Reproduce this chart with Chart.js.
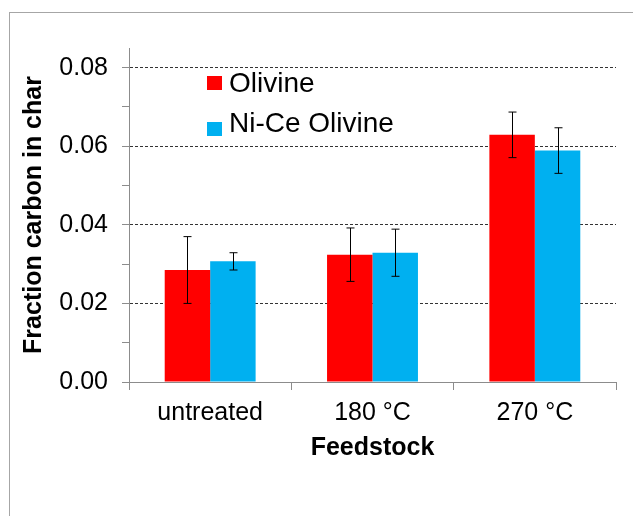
<!DOCTYPE html>
<html>
<head>
<meta charset="utf-8">
<script src="https://cdn.jsdelivr.net/npm/chart.js@4"></script>
<style>
  html, body { margin: 0; padding: 0; background: #fff; }
  #wrap { position: relative; width: 633px; height: 516px; overflow: hidden; }
  #frame { position: absolute; left: 9px; top: 12px; width: 640px; height: 520px;
           border-top: 1px solid #a6a6a6; border-left: 1px solid #a6a6a6; }
  #grafico { position: absolute; left: 0; top: 0; }
  .leyenda { position: absolute; font-family: "Liberation Sans", Arial, sans-serif;
             font-size: 28px; line-height: 28px; color: #000; white-space: nowrap; }
  .cuadro { position: absolute; width: 15px; height: 14px; }
</style>
</head>
<body>
<div id="wrap">
  <div id="frame"></div>
  <canvas id="grafico" width="633" height="516"></canvas>
  <div id="leyenda"></div>
</div>
<script>
// datos
var etiquetas = ["untreated", "180 \u00b0C", "270 \u00b0C"];
var series = ["Olivine", "Ni-Ce Olivine"];
var colores = ["#ff0000", "#00b0f0"];
var olivina = [0.0285, 0.0324, 0.0629];
var olivinaErr = [0.0085, 0.0068, 0.0058];
var niCe = [0.0307, 0.0329, 0.0589];
var niCeErr = [0.0022, 0.0060, 0.0058];
var marcasY = [0, 0.01, 0.02, 0.03, 0.04, 0.05, 0.06, 0.07, 0.08, 0.085];

var fuente = '"Liberation Sans", Arial, sans-serif';

function esMultiplo(v, paso) {
    var q = v / paso;
    return Math.abs(q - Math.round(q)) < 1e-6;
}

// barras de error
var barrasError = {
    id: 'barrasError',
    afterDatasetsDraw: function (chart) {
        var ctx = chart.ctx;
        var y = chart.scales.y;
        var errores = [olivinaErr, niCeErr];
        ctx.save();
        ctx.strokeStyle = '#000';
        ctx.lineWidth = 1;
        chart.data.datasets.forEach(function (ds, i) {
            var meta = chart.getDatasetMeta(i);
            meta.data.forEach(function (bar, j) {
                var v = ds.data[j], e = errores[i][j];
                var x = Math.round(bar.x) + 0.5;
                var y1 = y.getPixelForValue(v + e), y2 = y.getPixelForValue(v - e);
                ctx.beginPath();
                ctx.moveTo(x, y1); ctx.lineTo(x, y2);
                ctx.moveTo(x - 4, y1); ctx.lineTo(x + 4, y1);
                ctx.moveTo(x - 4, y2); ctx.lineTo(x + 4, y2);
                ctx.stroke();
            });
        });
        ctx.restore();
    }
};

var ctx1 = document.getElementById("grafico").getContext("2d");
var grafico = new Chart(ctx1, {
    type: 'bar',
    data: {
        labels: etiquetas,
        datasets: [
            { label: series[0], data: olivina, backgroundColor: colores[0] },
            { label: series[1], data: niCe, backgroundColor: colores[1] }
        ]
    },
    options: {
        responsive: false,
        animation: false,
        events: [],
        layout: { padding: { top: 48, right: 17, left: 0, bottom: 0 } },
        datasets: { bar: { categoryPercentage: 0.56, barPercentage: 1.0 } },
        plugins: { legend: { display: false }, tooltip: { enabled: false } },
        scales: {
            x: {
                grid: { drawOnChartArea: false, drawTicks: true, tickLength: 8, offset: true, color: '#8c8c8c' },
                border: { color: '#8c8c8c', width: 1 },
                ticks: { color: '#000', font: { family: fuente, size: 25 }, padding: 8 },
                title: { display: true, text: 'Feedstock', color: '#000',
                         font: { family: fuente, size: 25, weight: 'bold' }, padding: { top: 4, bottom: 53 } },
                afterFit: function (s) { s.height = 134; }
            },
            y: {
                min: 0,
                max: 0.085,
                afterBuildTicks: function (s) {
                    s.ticks = marcasY.map(function (v) { return { value: v }; });
                },
                ticks: {
                    color: '#000',
                    font: { family: fuente, size: 25 },
                    padding: 14,
                    callback: function (v) { return esMultiplo(v, 0.02) ? v.toFixed(2) : ''; }
                },
                grid: {
                    color: function (c) {
                        var v = c.tick.value;
                        return (v > 0 && esMultiplo(v, 0.02)) ? '#333333' : 'rgba(0,0,0,0)';
                    },
                    tickColor: function (c) {
                        return esMultiplo(c.tick.value, 0.01) ? '#8c8c8c' : 'rgba(0,0,0,0)';
                    },
                    tickLength: 7,
                    tickBorderDash: []
                },
                border: { color: '#8c8c8c', width: 1, dash: [3, 2] },
                title: { display: true, text: 'Fraction carbon in char', color: '#000',
                         font: { family: fuente, size: 25, weight: 'bold' }, padding: { top: 19, bottom: 4 } },
                afterFit: function (s) { s.width = 129; }
            }
        }
    },
    plugins: [barrasError]
});

// leyenda dentro del área del gráfico
var leyenda = document.getElementById("leyenda");
var filas = [{ cuadro: 76, texto: 69 }, { cuadro: 122, texto: 109 }];
series.forEach(function (nombre, i) {
    var c = document.createElement('div');
    c.className = 'cuadro';
    c.style.left = '207px';
    c.style.top = filas[i].cuadro + 'px';
    c.style.background = colores[i];
    leyenda.appendChild(c);
    var t = document.createElement('div');
    t.className = 'leyenda';
    t.style.left = '229px';
    t.style.top = filas[i].texto + 'px';
    t.textContent = nombre;
    leyenda.appendChild(t);
});
</script>
</body>
</html>
